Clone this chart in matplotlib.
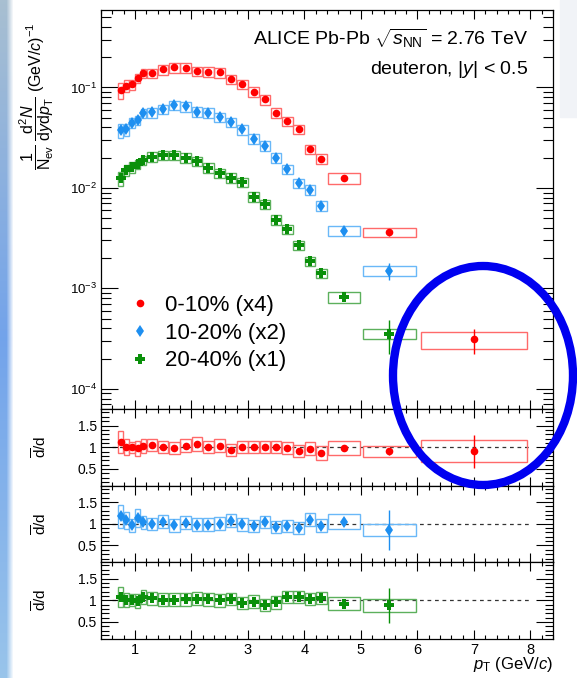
import numpy as np
import matplotlib.pyplot as plt
from matplotlib.patches import Ellipse, Rectangle
from matplotlib.lines import Line2D
from matplotlib.ticker import LogLocator, MultipleLocator, NullFormatter

plt.rcParams['font.family'] = ['Liberation Sans', 'DejaVu Sans']
plt.rcParams['mathtext.fontset'] = 'custom'
plt.rcParams['mathtext.rm'] = 'Liberation Sans'
plt.rcParams['mathtext.it'] = 'Liberation Sans:italic'
plt.rcParams['mathtext.bf'] = 'Liberation Sans:bold'
plt.rcParams['mathtext.sf'] = 'Liberation Sans'

# pT bins (GeV/c)
pt = np.array([0.75, 0.85, 0.95, 1.05, 1.15, 1.3, 1.5, 1.7, 1.9, 2.1, 2.3, 2.5,
               2.7, 2.9, 3.1, 3.3, 3.5, 3.7, 3.9, 4.1, 4.3, 4.7, 5.5, 7.0])
pt_lo = np.array([0.7, 0.8, 0.9, 1.0, 1.1, 1.2, 1.4, 1.6, 1.8, 2.0, 2.2, 2.4,
                  2.6, 2.8, 3.0, 3.2, 3.4, 3.6, 3.8, 4.0, 4.2, 4.4, 5.0, 6.0])
pt_hi = np.array([0.8, 0.9, 1.0, 1.1, 1.2, 1.4, 1.6, 1.8, 2.0, 2.2, 2.4, 2.6,
                  2.8, 3.0, 3.2, 3.4, 3.6, 3.8, 4.0, 4.2, 4.4, 5.0, 6.0, 8.0])

# deuteron spectra, already multiplied by the scale factors in the legend
spec_0010 = np.array([0.094, 0.104, 0.107, 0.123, 0.138, 0.138, 0.151, 0.158, 0.157, 0.145,
                      0.143, 0.141, 0.121, 0.108, 0.090, 0.076, 0.056, 0.046, 0.0385,
                      0.0242, 0.0195, 0.0125, 0.0036, 0.00031])
spec_1020 = np.array([0.0377, 0.0382, 0.0445, 0.0473, 0.0552, 0.0564, 0.0608, 0.0666, 0.0647,
                      0.0571, 0.0559, 0.0504, 0.0449, 0.0382, 0.0308, 0.0263, 0.0199, 0.0153,
                      0.0111, 0.00953, 0.00665, 0.00376, 0.00150])
spec_2040 = np.array([0.01245, 0.0151, 0.0160, 0.0172, 0.0189, 0.0204, 0.0212, 0.0212, 0.0200,
                      0.0185, 0.0159, 0.0140, 0.0126, 0.0114, 0.0082, 0.00688, 0.0048, 0.00388,
                      0.00269, 0.00187, 0.00142, 0.00082, 0.000355])

# relative uncertainties of the spectra
stat_0010 = np.array([0.02, 0.02, 0.02, 0.02, 0.02, 0.02, 0.02, 0.02, 0.02, 0.02, 0.02, 0.02,
                      0.02, 0.02, 0.02, 0.02, 0.03, 0.03, 0.03, 0.03, 0.04, 0.05, 0.08, 0.28])
syst_0010 = np.array([0.18, 0.14, 0.12, 0.11, 0.11, 0.11, 0.11, 0.11, 0.11, 0.11, 0.11, 0.11,
                      0.11, 0.11, 0.11, 0.11, 0.11, 0.11, 0.11, 0.11, 0.11, 0.12, 0.10, 0.19])
stat_1020 = np.array([0.02, 0.02, 0.02, 0.02, 0.02, 0.02, 0.02, 0.02, 0.02, 0.02, 0.02, 0.02,
                      0.02, 0.02, 0.02, 0.02, 0.03, 0.03, 0.03, 0.04, 0.05, 0.07, 0.19])
syst_1020 = np.array([0.16, 0.14, 0.12, 0.11, 0.11, 0.11, 0.11, 0.11, 0.11, 0.11, 0.11, 0.11,
                      0.11, 0.11, 0.11, 0.11, 0.11, 0.11, 0.11, 0.11, 0.11, 0.12, 0.12])
stat_2040 = np.array([0.02, 0.02, 0.02, 0.02, 0.02, 0.02, 0.02, 0.02, 0.02, 0.02, 0.02, 0.02,
                      0.02, 0.02, 0.02, 0.02, 0.03, 0.03, 0.03, 0.04, 0.05, 0.08, 0.38])
syst_2040 = np.array([0.16, 0.13, 0.12, 0.11, 0.11, 0.11, 0.11, 0.11, 0.11, 0.11, 0.11, 0.11,
                      0.11, 0.11, 0.11, 0.11, 0.11, 0.11, 0.11, 0.11, 0.11, 0.12, 0.12])

# anti-deuteron / deuteron ratios
ratio_0010 = np.array([1.12, 1.00, 1.00, 0.98, 1.02, 1.05, 1.00, 0.98, 1.04, 1.08, 1.01, 1.04,
                       0.93, 1.00, 1.01, 1.00, 1.01, 0.98, 0.92, 0.97, 0.87, 0.99, 0.91, 0.91])
ratio_stat_0010 = np.array([0.03, 0.03, 0.03, 0.03, 0.03, 0.03, 0.03, 0.03, 0.03, 0.03, 0.03, 0.03,
                            0.03, 0.03, 0.03, 0.03, 0.03, 0.03, 0.03, 0.04, 0.04, 0.05, 0.08, 0.38])
ratio_syst_0010 = np.array([0.26, 0.18, 0.13, 0.17, 0.16, 0.14, 0.14, 0.14, 0.15, 0.16, 0.14, 0.15,
                            0.14, 0.14, 0.14, 0.14, 0.14, 0.14, 0.14, 0.14, 0.16, 0.165, 0.125, 0.26])
ratio_1020 = np.array([1.17, 1.08, 0.96, 1.13, 1.03, 1.00, 1.05, 0.96, 1.02, 0.98, 0.98, 1.00,
                       1.07, 0.99, 0.94, 1.04, 0.92, 0.95, 0.90, 1.09, 0.95, 1.05, 0.85])
ratio_stat_1020 = np.array([0.04, 0.04, 0.04, 0.04, 0.04, 0.04, 0.04, 0.04, 0.04, 0.04, 0.04, 0.04,
                            0.04, 0.04, 0.04, 0.04, 0.04, 0.04, 0.05, 0.05, 0.05, 0.08, 0.46])
ratio_syst_1020 = np.array([0.27, 0.20, 0.14, 0.20, 0.15, 0.14, 0.15, 0.15, 0.15, 0.15, 0.15, 0.15,
                            0.15, 0.15, 0.14, 0.14, 0.14, 0.14, 0.14, 0.15, 0.15, 0.175, 0.135])
ratio_2040 = np.array([1.08, 1.01, 1.01, 0.98, 1.08, 1.05, 1.01, 1.01, 1.02, 1.03, 1.02, 1.00,
                       1.02, 0.93, 0.97, 0.90, 0.95, 1.08, 1.08, 1.02, 1.05, 0.92, 0.88])
ratio_stat_2040 = np.array([0.04, 0.04, 0.04, 0.04, 0.04, 0.04, 0.04, 0.04, 0.04, 0.04, 0.04, 0.04,
                            0.04, 0.04, 0.04, 0.04, 0.04, 0.04, 0.05, 0.05, 0.05, 0.06, 0.40])
ratio_syst_2040 = np.array([0.23, 0.16, 0.14, 0.16, 0.16, 0.15, 0.15, 0.15, 0.15, 0.15, 0.15, 0.15,
                            0.14, 0.14, 0.14, 0.14, 0.14, 0.14, 0.14, 0.14, 0.14, 0.155, 0.145])

labels = ['0-10% (x4)', '10-20% (x2)', '20-40% (x1)']
colors = ['#ff0000', '#1e8ff0', '#0a900a']
box_colors = ['#ff6a6a', '#6ab8f8', '#5cb05c']
markers = ['o', 'd', 'P']
msizes = [5.5, 6.5, 7]

spectra = [(spec_0010, stat_0010, syst_0010),
           (spec_1020, stat_1020, syst_1020),
           (spec_2040, stat_2040, syst_2040)]
ratios = [(ratio_0010, ratio_stat_0010, ratio_syst_0010),
          (ratio_1020, ratio_stat_1020, ratio_syst_1020),
          (ratio_2040, ratio_stat_2040, ratio_syst_2040)]


def draw_points(ax, y, stat, syst, i):
    n = len(y)
    x = pt[:n]
    w = (pt_hi[:n] - pt_lo[:n]) * 0.94
    ax.bar(x, 2 * syst, bottom=y - syst, width=w, fill=False,
           edgecolor=box_colors[i], linewidth=1.0, zorder=2)
    ax.errorbar(x, y, yerr=stat, fmt=markers[i], color=colors[i], ms=msizes[i],
                mew=0, elinewidth=1.0, capsize=0, zorder=3)


def style_axis(ax, ylen_major, ylen_minor):
    ax.set_xlim(0.4, 8.4)
    ax.xaxis.set_major_locator(MultipleLocator(1))
    ax.xaxis.set_minor_locator(MultipleLocator(0.2))
    ax.tick_params(which='both', direction='in', top=True, right=True, width=0.8)
    ax.tick_params(axis='x', which='major', length=6.5)
    ax.tick_params(axis='x', which='minor', length=3.2)
    ax.tick_params(axis='y', which='major', length=ylen_major)
    ax.tick_params(axis='y', which='minor', length=ylen_minor)
    for s in ax.spines.values():
        s.set_linewidth(0.9)


fig = plt.figure(figsize=(5.77, 6.78), dpi=100)

# bluish strip of the slide background on the left edge
strip = np.ones((678, 14, 3))
top_col = np.array([0.66, 0.75, 0.82])
mid_col = np.array([0.45, 0.64, 0.92])
bot_col = np.array([0.60, 0.77, 0.92])
for r in range(678):
    t = r / 677
    if t >= 0.5:
        c = mid_col * (1 - (t - 0.5) * 2) + bot_col * (t - 0.5) * 2
    else:
        c = top_col * (1 - t * 2) + mid_col * t * 2
    for k in range(14):
        f = 1.0 if k < 7 else max(0.0, 1 - (k - 6) / 7)
        strip[677 - r, k] = c * f + (1 - f)
fig.figimage(strip, xo=0, yo=0, zorder=0, origin='lower')
fig.patches.append(Rectangle((560 / 577, 1 - 117 / 678), 17 / 577, 117 / 678,
                             transform=fig.transFigure, color='#f1f3f7', zorder=0))

L, W = 101 / 577, 452 / 577
ax_main = fig.add_axes([L, 1 - 409 / 678, W, 399 / 678])
h = 76.5 / 678
ax_r = [fig.add_axes([L, 1 - (409 + 76.5 * (k + 1)) / 678, W, h]) for k in range(3)]

# spectra
for i, (y, st, sy) in enumerate(spectra):
    draw_points(ax_main, y, y * st, y * sy, i)
ax_main.set_yscale('log')
ax_main.set_ylim(6.3e-5, 0.59)
style_axis(ax_main, 12, 7)
ax_main.set_yticks([1e-4, 1e-3, 1e-2, 1e-1],
                   [r'$10^{-4}$', r'$10^{-3}$', r'$10^{-2}$', r'$10^{-1}$'], fontsize=9.5)
ax_main.yaxis.set_minor_locator(LogLocator(base=10, subs=np.arange(2, 10)))
ax_main.yaxis.set_minor_formatter(NullFormatter())
ax_main.tick_params(axis='x', labelbottom=False)
ax_main.tick_params(axis='y', pad=3)

handles = [Line2D([], [], ls='none', marker=markers[i], color=colors[i], ms=msizes[i], mew=0)
           for i in range(3)]
ax_main.legend(handles, labels, loc='center left', bbox_to_anchor=(0.062, 0.19),
               frameon=False, fontsize=16, handlelength=1.0, handletextpad=0.62,
               labelspacing=0.3, borderpad=0, borderaxespad=0)

# ratio panels
for k, ax in enumerate(ax_r):
    y, st, sy = ratios[k]
    ax.hlines(1.0, 0.6, 8.0, colors='#333333', linestyles=(0, (3, 3)), linewidth=0.9, zorder=1)
    draw_points(ax, y, st, sy, k)
    ax.set_ylim(0.12, 1.88)
    style_axis(ax, 12, 6)
    ax.set_yticks([0.5, 1.0, 1.5], ['0.5', '1', '1.5'], fontsize=10)
    ax.yaxis.set_minor_locator(MultipleLocator(0.1))
    ax.tick_params(axis='y', pad=3)
    if k < 2:
        ax.tick_params(axis='x', labelbottom=False)
    else:
        ax.tick_params(axis='x', labelsize=10.5, pad=3)
    fig.text(40 / 577, 1 - (447 + 76.5 * k) / 678, r'$\overline{\mathrm{d}}$/d',
             rotation=90, ha='center', va='center', fontsize=11)

# axis titles and header
fig.text(37 / 577, 1 - 96 / 678,
         r'$\dfrac{1}{\mathrm{N_{ev}}}\;\dfrac{\mathrm{d}^{2}N}{\mathrm{d}y\mathrm{d}p_{\mathrm{T}}}$ (GeV/$c$)$^{-1}$',
         rotation=90, ha='center', va='center', fontsize=11.5)
fig.text(553 / 577, 1 - 665 / 678, r'$p_{\mathrm{T}}$ (GeV/$c$)', ha='right', va='center', fontsize=12)
fig.text(528 / 577, 1 - 38 / 678, r'ALICE Pb-Pb $\sqrt{s_{\mathrm{NN}}}$ = 2.76 TeV',
         ha='right', va='center', fontsize=14)
fig.text(528 / 577, 1 - 70 / 678, r'deuteron, |$y$| < 0.5', ha='right', va='center', fontsize=14)

# highlight around the highest pT bin, placed in figure pixels
fig.patches.append(Ellipse((483 / 577, 1 - 375.5 / 678), 180 / 577, 219 / 678,
                           transform=fig.transFigure, fill=False, edgecolor='#0000f0',
                           linewidth=6, zorder=10))

fig.savefig('out.png', dpi=100)
